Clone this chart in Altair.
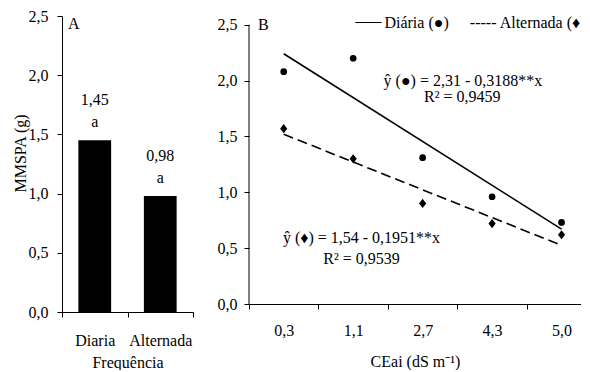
import altair as alt
import pandas as pd

# ---------------- data ----------------
freq = ["Diaria", "Alternada"]
mmspa = [1.45, 0.98]
mean_labels = ["1,45", "0,98"]
letters = ["a", "a"]

ce_labels = ["0,3", "1,1", "2,7", "4,3", "5,0"]
ce_pos = [1, 2, 3, 4, 5]
diaria = [2.08, 2.20, 1.31, 0.96, 0.73]
alternada = [1.57, 1.30, 0.90, 0.72, 0.62]

trend_pos = [1, 5]
trend_diaria = [2.24, 0.67]
trend_alternada = [1.52, 0.525]

eq_diaria = "ŷ (●) = 2,31 - 0,3188**x"
r2_diaria = "R² = 0,9459"
eq_alternada = "ŷ (♦) = 1,54 - 0,1951**x"
r2_alternada = "R² = 0,9539"
leg_diaria = "Diária (●)"
leg_alternada = "----- Alternada (♦)"

FONT = "Liberation Serif"
FS = 16
comma_fmt = "replace(format(datum.value, '.1f'), '.', ',')"
yticks = [0, 0.5, 1.0, 1.5, 2.0, 2.5]
one = pd.DataFrame({"k": [0]})

# ---------------- panel A ----------------
dfA = pd.DataFrame({"freq": freq, "v": mmspa, "lab": mean_labels, "let": letters})

xA = alt.X("freq:N", sort=freq,
           scale=alt.Scale(paddingInner=0, paddingOuter=0),
           axis=alt.Axis(title="Frequência", labelAngle=0, tickBand="extent",
                         labelPadding=15, titlePadding=6))
yA = alt.Y("v:Q", scale=alt.Scale(domain=[0, 2.5], nice=False),
           axis=alt.Axis(values=yticks, labelExpr=comma_fmt, title="MMSPA (g)",
                         labelPadding=9, titlePadding=0, titleY=137))

barsA = alt.Chart(dfA).mark_bar(color="black", width=alt.RelativeBandSize(0.5)).encode(x=xA, y=yA)
meanA = alt.Chart(dfA).mark_text(dy=-40, font=FONT, fontSize=FS, baseline="middle").encode(
    x=alt.X("freq:N", sort=freq), y="v:Q", text="lab:N")
letA = alt.Chart(dfA).mark_text(dy=-18, font=FONT, fontSize=FS, baseline="middle").encode(
    x=alt.X("freq:N", sort=freq), y="v:Q", text="let:N")
tagA = alt.Chart(one).mark_text(text="A", font=FONT, fontSize=FS, align="left",
                                baseline="middle").encode(x=alt.value(6), y=alt.datum(2.435))
HA = 296
panelA = alt.layer(barsA, meanA, letA, tagA).properties(width=131, height=HA)

# ---------------- panel B ----------------
dfP = pd.DataFrame({"pos": ce_pos, "d": diaria, "a": alternada})
dfT = pd.DataFrame({"pos": trend_pos, "d": trend_diaria, "a": trend_alternada})

lab_list = "[" + ",".join("'" + s + "'" for s in ce_labels) + "]"
WB = 332
XMAX = 5.28                      # right part of the last band is cut off, as in the figure
step = WB / (XMAX - 0.5)
HB_unit = 111.7                  # px per unit on panel B's y axis
HB = 288
YMAX = HB / HB_unit

xB_axis = alt.Axis(
    values=[0.5, 1.5, 2.5, 3.5, 4.5],
    labelExpr=f"{lab_list}[datum.value - 0.5] || ''",
    labelOffset=step / 2,
    labelOverlap=False, labelFlush=False, labelPadding=13, titlePadding=15,
    title="CEai (dS m⁻¹)")
xB_scale = alt.Scale(domain=[0.5, XMAX], nice=False, zero=False)
yB_scale = alt.Scale(domain=[0, YMAX], nice=False)
yB_axis = alt.Axis(values=yticks, labelExpr=comma_fmt, title=None, labelPadding=7,
                   domain=False)

xB = alt.X("pos:Q", scale=xB_scale, axis=xB_axis)
yBd = alt.Y("d:Q", scale=yB_scale, axis=yB_axis)

lineD = alt.Chart(dfT).mark_line(color="black", strokeWidth=1.6).encode(x=xB, y=yBd)
lineA = alt.Chart(dfT).mark_line(color="black", strokeWidth=1.6, strokeDash=[10, 5]).encode(
    x="pos:Q", y="a:Q")
ptsD = alt.Chart(dfP).mark_point(shape="circle", filled=True, size=45, color="black",
                                 opacity=1).encode(x="pos:Q", y="d:Q")
ptsA = alt.Chart(dfP).mark_point(shape="M0,-1L0.78,0L0,1L-0.78,0Z", filled=True, size=85,
                                 color="black", opacity=1).encode(x="pos:Q", y="a:Q")
# y axis line of panel B (from 0 to the top tick)
yline = alt.Chart(one).mark_rule(color="black", strokeWidth=1).encode(
    x=alt.value(0), y=alt.datum(yticks[0]), y2=alt.datum(yticks[-1]))

def txt(s, x, y, align="center"):
    return alt.Chart(one).mark_text(text=s, font=FONT, fontSize=FS, align=align,
                                    baseline="middle", clip=True).encode(
        x=alt.datum(x), y=alt.datum(y))

annB = [
    txt(eq_diaria, 3.58, 2.0), txt(r2_diaria, 3.57, 1.855),
    txt(eq_alternada, 2.12, 0.59), txt(r2_alternada, 2.12, 0.40),
    txt(leg_diaria, 2.45, 2.52, "left"), txt(leg_alternada, 3.68, 2.52, "left"),
]
legRule = alt.Chart(one).mark_rule(color="black", strokeWidth=1).encode(
    x=alt.datum(2.03), x2=alt.datum(2.41), y=alt.datum(2.52))
tagB = alt.Chart(one).mark_text(text="B", font=FONT, fontSize=FS, align="left",
                                baseline="middle").encode(x=alt.value(9), y=alt.datum(2.5))

panelB = alt.layer(lineD, lineA, ptsD, ptsA, yline, legRule, tagB, *annB).properties(
    width=WB, height=HB)

chart = alt.hconcat(panelA, panelB, spacing=56, bounds="flush").properties(
    padding={"left": 4, "top": 0, "right": 0, "bottom": 0}
).configure_axis(
    labelFont=FONT, labelFontSize=FS, titleFont=FONT, titleFontSize=FS,
    titleFontWeight="normal", labelColor="black", titleColor="black",
    domainColor="black", tickColor="black", tickSize=5, grid=False,
).configure_view(stroke=None)

chart.save("out.html", embed_options={"renderer": "svg", "actions": False})
